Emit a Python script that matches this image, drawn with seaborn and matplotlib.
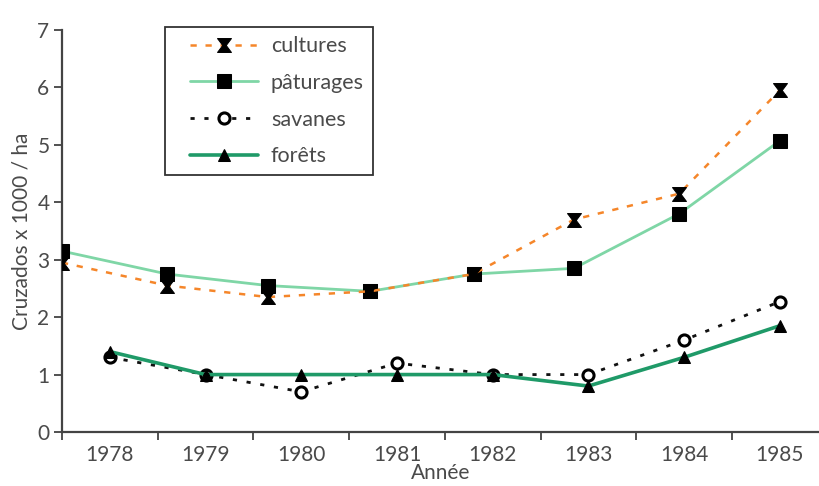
import numpy as np
import pandas as pd
import matplotlib
matplotlib.use("Agg")
import matplotlib.pyplot as plt
from matplotlib.lines import Line2D
from matplotlib.legend_handler import HandlerLine2D
import seaborn as sns

years = ["1978", "1979", "1980", "1981", "1982", "1983", "1984", "1985"]
# positions of points (in year-slot units, 0 = 1978)
x_upper = [-0.5, 0.6, 1.65, 2.72, 3.8, 4.85, 5.95, 7.0]
x_lower = [0, 1, 2, 3, 4, 5, 6, 7]
cultures = [2.95, 2.55, 2.35, 2.45, 2.75, 3.7, 4.15, 5.95]
paturages = [3.15, 2.75, 2.55, 2.45, 2.75, 2.85, 3.8, 5.07]
savanes = [1.3, 1.0, 0.7, 1.2, 1.0, 1.0, 1.6, 2.27]
forets = [1.4, 1.0, 1.0, 1.0, 1.0, 0.8, 1.3, 1.85]
names = ["cultures", "pâturages", "savanes", "forêts"]

sns.set_theme(style="ticks")
plt.rcParams['font.family'] = ['Lato', 'DejaVu Sans']
FS = 15
TXT = "#4a4a4a"

fig = plt.figure(figsize=(8.19, 4.86), dpi=100)
ax = fig.add_axes([62/819, 54/486, 1 - 62/819, (432-30)/486])

hourglass = [(-1, 1), (1, 1), (0.25, 0), (1, -1), (-1, -1), (-0.25, 0), (-1, 1)]

sns.lineplot(x=x_upper, y=cultures, ax=ax, color="#f5862a", linestyle=(0, (2.5, 3.5)),
             linewidth=1.8, marker=hourglass, markersize=10, markerfacecolor="black",
             markeredgecolor="black", label=names[0], zorder=4)
sns.lineplot(x=x_upper, y=paturages, ax=ax, color="#7fd6a6", linestyle="-",
             linewidth=2.0, marker="s", markersize=10, markerfacecolor="black",
             markeredgecolor="black", label=names[1], zorder=3)
sns.lineplot(x=x_lower, y=savanes, ax=ax, color="#111111", linestyle=(0, (1.5, 3.5)),
             linewidth=2.0, marker="o", markersize=8, markerfacecolor="white",
             markeredgecolor="black", markeredgewidth=2.2, label=names[2], zorder=3)
sns.lineplot(x=x_lower, y=forets, ax=ax, color="#1f9a68", linestyle="-",
             linewidth=2.6, marker="^", markersize=9, markerfacecolor="black",
             markeredgecolor="black", label=names[3], zorder=4)

ax.set_xlim(-0.5, 7.41)
ax.set_ylim(0, 7)
ax.set_xticks(range(len(years)))
ax.set_xticklabels(years)
ax.set_xticks(np.arange(-0.5, 7, 1.0), minor=True)
ax.tick_params(axis="x", which="major", length=0, pad=9, labelsize=FS, labelcolor=TXT)
ax.tick_params(axis="x", which="minor", length=6, width=1.2, direction="out", color="#333333")
ax.set_yticks(range(0, 8))
ax.tick_params(axis="y", length=6, width=1.2, direction="out", pad=3, labelsize=FS,
               labelcolor=TXT, color="#333333")
sns.despine(ax=ax)
for s in ["left", "bottom"]:
    ax.spines[s].set_linewidth(1.6)
    ax.spines[s].set_color("#444444")

ax.set_xlabel("Année", fontsize=FS, color=TXT, labelpad=-1)
ax.set_ylabel("Cruzados x 1000 / ha", fontsize=FS, color=TXT, labelpad=4)

leg = ax.legend(loc="upper left", bbox_to_anchor=((165-62)/757, 1 + 3/402),
                frameon=True, fancybox=False, edgecolor="black", fontsize=15.5,
                handlelength=3.9, labelspacing=0.78, borderpad=0.42, handletextpad=0.6,
                borderaxespad=0,
                handler_map={Line2D: HandlerLine2D(xpad=0.72)})
leg.get_frame().set_linewidth(1.3)
for t in leg.get_texts():
    t.set_color(TXT)

fig.savefig("out.png", dpi=100)
